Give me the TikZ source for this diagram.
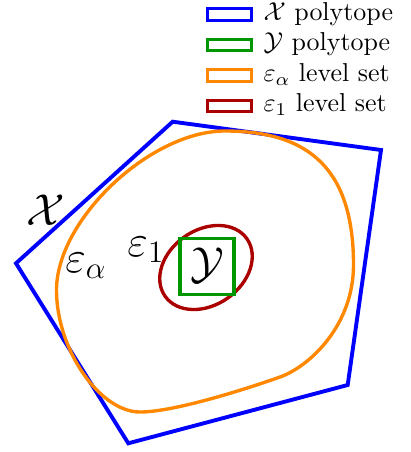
\documentclass[tikz,border=0pt]{standalone}
\usepackage{amsmath,amssymb}
\usepackage{tikz}
\definecolor{xblue}{RGB}{0,0,255}
\definecolor{ygreen}{RGB}{0,150,0}
\definecolor{aorange}{RGB}{255,136,0}
\definecolor{ored}{RGB}{170,0,0}
\begin{document}
\begin{tikzpicture}[x=0.386pt, y=-0.386pt,
  lbl/.style={inner sep=0pt, font=\LARGE},
  key/.style={draw, line width=1.1pt, minimum width=17pt, minimum height=4.4pt, inner sep=0pt},
  keytxt/.style={anchor=west, inner sep=0pt, text height=6pt, text depth=1.5pt}]
\useasboundingbox (0,0) rectangle (411,452);
% X polytope
\coordinate (P1) at (172.7,121.7);
\coordinate (P2) at (381,150);
\coordinate (P3) at (347.7,385);
\coordinate (P4) at (128.3,443.3);
\coordinate (P5) at (16,263.3);
\draw[xblue, line width=1.5pt, line join=miter] (P1) -- (P2) -- (P3) -- (P4) -- (P5) -- cycle;
% level sets
\draw[aorange, line width=1.3pt] (225,131) .. controls (310,131) and (353.5,170) .. (353.5,265)
  .. controls (353.5,325) and (310,366.3) .. (280,377)
  .. controls (250,387.7) and (175,412) .. (140,412)
  .. controls (100,412) and (56.5,350) .. (56.5,290)
  .. controls (56.5,220) and (150,131) .. cycle;
\draw[ored, line width=1.3pt, rotate around={35:(206,267.5)}] (206,267.5) ellipse (50 and 37.5);
% Y polytope
\draw[ygreen, line width=1.5pt] (180,238.5) rectangle (234,294.5);
% labels
\node[lbl] (lX) at (46,210) {$\mathcal{X}$};
\node[lbl] (lea) at (86,266) {$\varepsilon_\alpha$};
\node[lbl] (le1) at (146,250) {$\varepsilon_1$};
\node[lbl] (lY) at (207,265) {$\mathcal{Y}$};
% legend
\node[key, xblue] (k1) at (229.5,14.5) {};
\node[keytxt] (t1) at (263,14.5) {$\mathcal{X}$ polytope};
\node[key, ygreen] (k2) at (229.5,45) {};
\node[keytxt] (t2) at (263,45) {$\mathcal{Y}$ polytope};
\node[key, aorange] (k3) at (229.5,75.5) {};
\node[keytxt] (t3) at (263,75.5) {$\varepsilon_\alpha$ level set};
\node[key, ored] (k4) at (229.5,106) {};
\node[keytxt] (t4) at (263,106) {$\varepsilon_1$ level set};
\end{tikzpicture}
\end{document}
